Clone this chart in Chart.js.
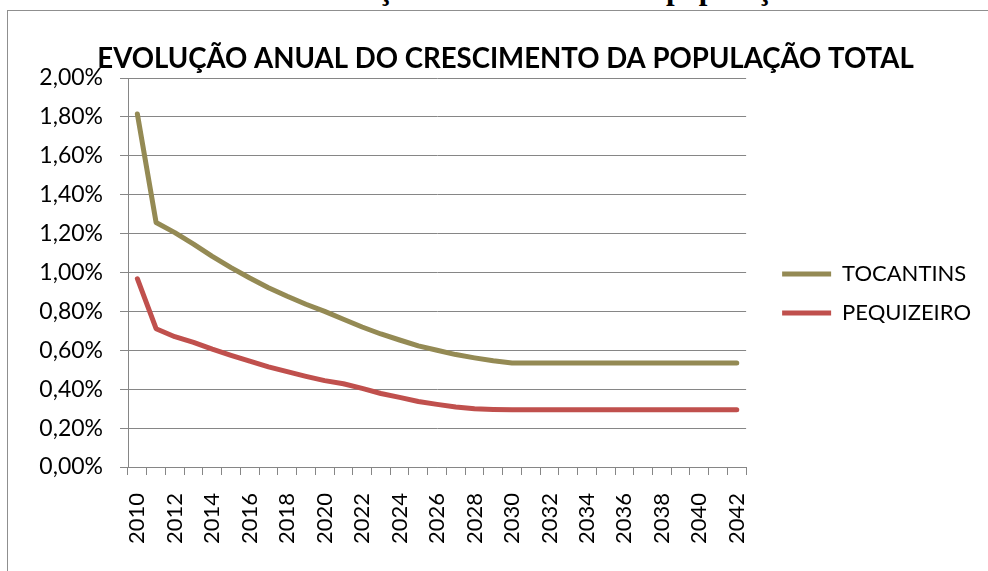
<!DOCTYPE html>
<html>
<head>
<meta charset="utf-8">
<script src="https://cdn.jsdelivr.net/npm/chart.js@4.4.0/dist/chart.umd.min.js"></script>
<style>
  html, body { margin: 0; padding: 0; background: #fff; }
  body { width: 988px; height: 571px; position: relative; overflow: hidden; }
  #frameTop { position: absolute; left: 7px; top: 10px; width: 981px; height: 1px; background: #8f8f8f; }
  #frameLeft { position: absolute; left: 7px; top: 10px; width: 1px; height: 561px; background: #8f8f8f; }
  .cap { position: absolute; top: -27px; font: bold 31px "Liberation Serif", serif; line-height: 31px; white-space: nowrap; color: #000; }
  #wrap { position: absolute; left: 0; top: 0; width: 988px; height: 571px; }
</style>
</head>
<body>
<div class="cap" style="right:565px;">Evolução</div>
<div class="cap" style="left:666px;">população</div>
<div id="frameTop"></div>
<div id="frameLeft"></div>
<div id="wrap"><canvas id="c" width="988" height="571"></canvas></div>
<script>
const chartTitle = 'EVOLUÇÃO ANUAL DO CRESCIMENTO DA POPULAÇÃO TOTAL';
const years = ['2010','2011','2012','2013','2014','2015','2016','2017','2018','2019','2020',
  '2021','2022','2023','2024','2025','2026','2027','2028','2029','2030',
  '2031','2032','2033','2034','2035','2036','2037','2038','2039','2040','2041','2042'];
const seriesNames = ['TOCANTINS', 'PEQUIZEIRO'];
// annual growth, percent
const tocantins = [1.815, 1.257, 1.205, 1.146, 1.083, 1.025, 0.972, 0.922, 0.878, 0.837, 0.800,
  0.760, 0.720, 0.684, 0.653, 0.623, 0.600, 0.578, 0.561, 0.546, 0.535,
  0.535, 0.535, 0.535, 0.535, 0.535, 0.535, 0.535, 0.535, 0.535, 0.535, 0.535, 0.535];
const pequizeiro = [0.968, 0.711, 0.670, 0.641, 0.606, 0.574, 0.544, 0.515, 0.490, 0.466, 0.444,
  0.428, 0.404, 0.378, 0.358, 0.337, 0.322, 0.309, 0.300, 0.296, 0.294,
  0.294, 0.294, 0.294, 0.294, 0.294, 0.294, 0.294, 0.294, 0.294, 0.294, 0.294, 0.294];
const yTicks = [0, 0.2, 0.4, 0.6, 0.8, 1.0, 1.2, 1.4, 1.6, 1.8, 2.0];

const FONT = 'Lato, "Open Sans", sans-serif';
const GRID = '#868686';
const LEGEND_GAP = 19;

// widens the space between the plot area and the legend
const legendGap = {
  id: 'legendGap',
  beforeLayout(chart) {
    const lg = chart.legend;
    if (lg && !lg.__gapPatched) {
      const origFit = lg.fit;
      lg.fit = function() { origFit.apply(this, arguments); this.width += LEGEND_GAP; };
      lg.__gapPatched = true;
    }
  },
  afterLayout(chart) {
    const lg = chart.legend;
    if (lg) { lg.left += LEGEND_GAP; lg.width -= LEGEND_GAP; }
  }
};

new Chart(document.getElementById('c'), {
  type: 'line',
  data: {
    labels: years,
    datasets: [
      { label: seriesNames[0], data: tocantins, borderColor: '#948A54', backgroundColor: '#948A54',
        borderWidth: 5, borderCapStyle: 'round', borderJoinStyle: 'round', pointRadius: 0, tension: 0, fill: false },
      { label: seriesNames[1], data: pequizeiro, borderColor: '#C0504D', backgroundColor: '#C0504D',
        borderWidth: 5, borderCapStyle: 'round', borderJoinStyle: 'round', pointRadius: 0, tension: 0, fill: false }
    ]
  },
  plugins: [legendGap],
  options: {
    responsive: false,
    animation: false,
    devicePixelRatio: 1,
    layout: { padding: { top: 16, right: 7, bottom: 0, left: 30 } },
    plugins: {
      tooltip: { enabled: false },
      title: {
        display: true, text: chartTitle, color: '#000',
        font: { family: FONT, size: 27.6, weight: 'bold', lineHeight: 1.2 },
        padding: { top: 26.3, bottom: 2.6 }
      },
      legend: {
        position: 'right', align: 'center',
        labels: {
          color: '#000', font: { family: FONT, size: 22 },
          usePointStyle: true, pointStyle: 'line', pointStyleWidth: 49, padding: 17
        }
      }
    },
    scales: {
      x: {
        type: 'category', offset: true,
        grid: { offset: true, drawOnChartArea: false, drawTicks: true, tickLength: 8, color: GRID, lineWidth: 1 },
        border: { display: true, color: GRID, width: 1 },
        ticks: {
          autoSkip: false, maxRotation: 90, minRotation: 90, padding: 18, color: '#000',
          font: { family: FONT, size: 22 },
          callback: function(v, i) { return i % 2 === 0 ? years[i] : ''; }
        },
        afterFit: function(s) { s.height = 104; }
      },
      y: {
        min: 0, max: 2,
        afterBuildTicks: function(s) { s.ticks = yTicks.map(v => ({ value: v })); },
        grid: { color: GRID, lineWidth: 1, tickLength: 8, drawTicks: true },
        border: { display: true, color: GRID, width: 1 },
        ticks: {
          padding: 17, color: '#000', font: { family: FONT, size: 23 },
          callback: function(v) { return v.toFixed(2).replace('.', ',') + '%'; }
        },
        afterFit: function(s) { s.width = 98; }
      }
    }
  }
});
</script>
</body>
</html>
